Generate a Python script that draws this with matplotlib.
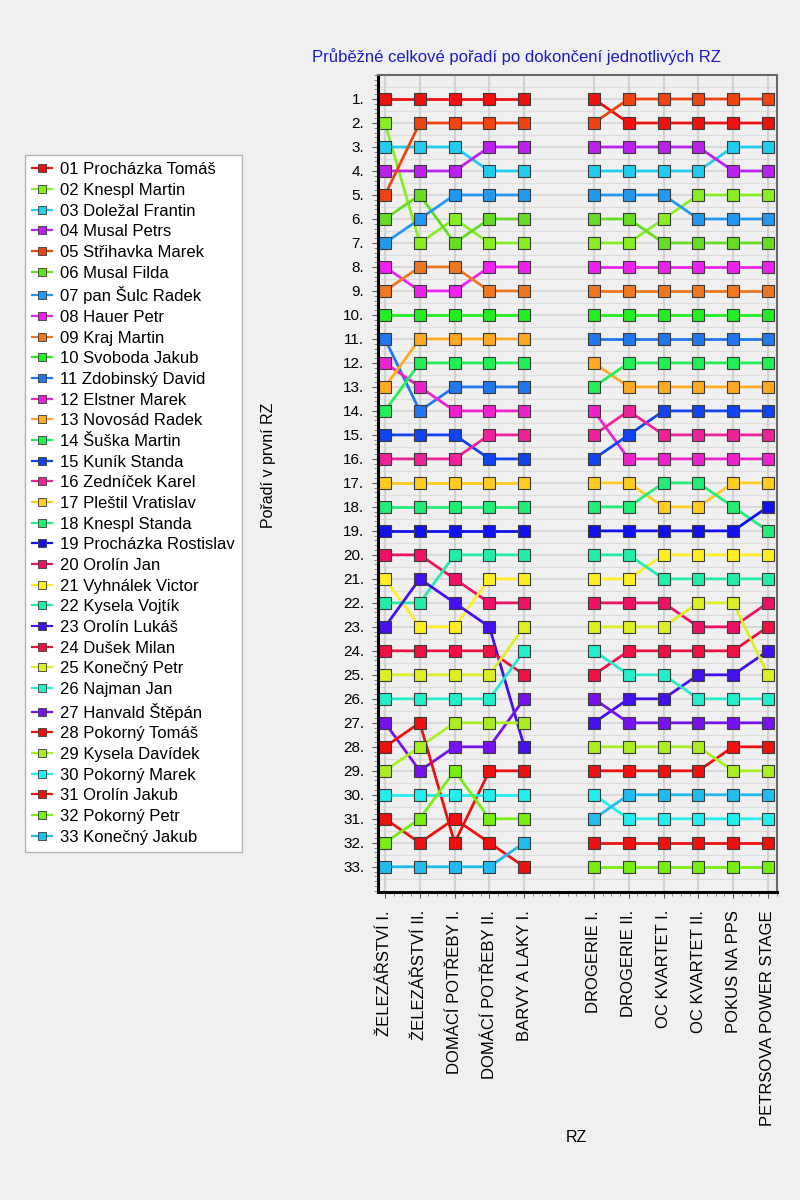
import numpy as np
import matplotlib.pyplot as plt
from matplotlib.ticker import MultipleLocator
from matplotlib.lines import Line2D

plt.rcParams['font.family'] = ['Liberation Sans', 'DejaVu Sans']

drivers = [
    "01 Procházka Tomáš", "02 Knespl Martin", "03 Doležal Frantin", "04 Musal Petrs",
    "05 Střihavka Marek", "06 Musal Filda", "07 pan Šulc Radek", "08 Hauer Petr",
    "09 Kraj Martin", "10 Svoboda Jakub", "11 Zdobinský David", "12 Elstner Marek",
    "13 Novosád Radek", "14 Šuška Martin", "15 Kuník Standa", "16 Zedníček Karel",
    "17 Pleštil Vratislav", "18 Knespl Standa", "19 Procházka Rostislav", "20 Orolín Jan",
    "21 Vyhnálek Victor", "22 Kysela Vojtík", "23 Orolín Lukáš", "24 Dušek Milan",
    "25 Konečný Petr", "26 Najman Jan", "27 Hanvald Štěpán", "28 Pokorný Tomáš",
    "29 Kysela Davídek", "30 Pokorný Marek", "31 Orolín Jakub", "32 Pokorný Petr",
    "33 Konečný Jakub",
]

colors = [
    "#ee1111", "#88ee22", "#22ccee", "#bb22ee", "#ee4411", "#66dd22", "#2299ee", "#ee22ee",
    "#ee7722", "#22ee22", "#2277ee", "#ee22cc", "#ffaa22", "#22ee55", "#1144ee", "#ee2299",
    "#ffcc22", "#22ee77", "#1111ee", "#ee1166", "#ffee22", "#22eeaa", "#4411ee", "#ee1144",
    "#ddee22", "#22eecc", "#7711ee", "#ee1111", "#aaee22", "#22eeee", "#ee1111", "#77ee11",
    "#22bbee",
]

stages_a = ["ŽELEZÁŘSTVÍ I.", "ŽELEZÁŘSTVÍ II.", "DOMÁCÍ POTŘEBY I.", "DOMÁCÍ POTŘEBY II.",
            "BARVY A LAKY I."]
stages_b = ["DROGERIE I.", "DROGERIE II.", "OC KVARTET I.", "OC KVARTET II.",
            "POKUS NA PPS", "PETRSOVA POWER STAGE"]

# position of each driver (01..33) after each stage
zel1 = [1, 2, 3, 4, 5, 6, 7, 8, 9, 10, 11, 12, 13, 14, 15, 16, 17, 18, 19, 20, 21, 22, 23,
        24, 25, 26, 27, 28, 29, 30, 31, 32, 33]
zel2 = [1, 7, 3, 4, 2, 5, 6, 9, 8, 10, 14, 13, 11, 12, 15, 16, 17, 18, 19, 20, 23, 22, 21,
        24, 25, 26, 29, 27, 28, 30, 32, 31, 33]
dom1 = [1, 6, 3, 4, 2, 7, 5, 9, 8, 10, 13, 14, 11, 12, 15, 16, 17, 18, 19, 21, 23, 20, 22,
        24, 25, 26, 28, 32, 27, 30, 31, 29, 33]
dom2 = [1, 7, 4, 3, 2, 6, 5, 8, 9, 10, 13, 14, 11, 12, 16, 15, 17, 18, 19, 22, 21, 20, 23,
        24, 25, 26, 28, 29, 27, 30, 32, 31, 33]
barvy = [1, 7, 4, 3, 2, 6, 5, 8, 9, 10, 13, 14, 11, 12, 16, 15, 17, 18, 19, 22, 21, 20, 28,
         25, 23, 24, 26, 29, 27, 30, 33, 31, 32]
drog1 = [1, 7, 4, 3, 2, 6, 5, 8, 9, 10, 11, 14, 12, 13, 16, 15, 17, 18, 19, 22, 21, 20, 27,
         25, 23, 24, 26, 29, 28, 30, 32, 33, 31]
drog2 = [2, 7, 4, 3, 1, 6, 5, 8, 9, 10, 11, 16, 13, 12, 15, 14, 17, 18, 19, 22, 21, 20, 26,
         24, 23, 25, 27, 29, 28, 31, 32, 33, 30]
oc1 = [2, 6, 4, 3, 1, 7, 5, 8, 9, 10, 11, 16, 13, 12, 14, 15, 18, 17, 19, 22, 20, 21, 26,
       24, 23, 25, 27, 29, 28, 31, 32, 33, 30]
oc2 = [2, 5, 4, 3, 1, 7, 6, 8, 9, 10, 11, 16, 13, 12, 14, 15, 18, 17, 19, 23, 20, 21, 25,
       24, 22, 26, 27, 29, 28, 31, 32, 33, 30]
pokus = [2, 5, 3, 4, 1, 7, 6, 8, 9, 10, 11, 16, 13, 12, 14, 15, 17, 18, 19, 23, 20, 21, 25,
         24, 22, 26, 27, 28, 29, 31, 32, 33, 30]
petrsova = [2, 5, 3, 4, 1, 7, 6, 8, 9, 10, 11, 16, 13, 12, 14, 15, 17, 19, 18, 22, 20, 21, 24,
            23, 25, 26, 27, 28, 29, 31, 32, 33, 30]

left = np.array([zel1, zel2, dom1, dom2, barvy]).T
right = np.array([drog1, drog2, oc1, oc2, pokus, petrsova]).T

bg = "#f0f0f0"
fig = plt.figure(figsize=(8, 12), dpi=100, facecolor=bg)
ax = fig.add_axes([0.4725, 0.2567, 0.4988, 0.6808])
ax.set_facecolor(bg)
ax.set_axisbelow(True)

x_a = np.arange(len(stages_a))
x_b = np.arange(len(stages_b)) + len(stages_a) + 1

handles = []
for i in range(len(drivers)):
    kw = dict(color=colors[i], lw=2, marker="s", ms=8, mfc=colors[i], mec="#3a3a3a", mew=0.8)
    ax.plot(x_a, left[i], **kw)
    ax.plot(x_b, right[i], **kw)
    handles.append(Line2D([], [], color=colors[i], lw=1.6, marker="s", ms=6,
                          mfc=colors[i], mec="#3a3a3a", mew=0.6))

ax.set_xticks(np.concatenate([x_a, x_b]))
ax.set_xticklabels(stages_a + stages_b, rotation=90, fontsize=12)
ax.xaxis.set_minor_locator(MultipleLocator(0.25))
ax.set_xlim(-0.2, 11.26)

ax.set_ylim(34.05, 0)
ax.set_yticks(range(1, 34))
ax.set_yticklabels([f"{k}." for k in range(1, 34)], fontsize=11)
ax.yaxis.set_minor_locator(MultipleLocator(0.2))

ax.grid(axis="x", which="major", color="#d2d2d2", lw=1.6)
ax.grid(axis="y", which="major", color="#d4d4d4", lw=1.2)
for h in np.arange(0.5, 34.5, 1.0):
    ax.axhline(h, color="#dedede", lw=0.9, zorder=0)

ax.tick_params(axis="both", which="major", length=4, color="#555555", pad=6)
ax.tick_params(axis="x", which="major", pad=9)
ax.tick_params(axis="both", which="minor", length=3, color="#777777")

for s in ["left", "bottom"]:
    ax.spines[s].set_color("black")
    ax.spines[s].set_linewidth(2.2)
for s in ["top", "right"]:
    ax.spines[s].set_color("#6a6a6a")
    ax.spines[s].set_linewidth(1.5)

fig.text(0.39, 0.9525, "Průběžné celkové pořadí po dokončení jednotlivých RZ",
         color="#1c1cc8", fontsize=12, ha="left", va="center")
fig.text(268 / 800, 1 - 465 / 1200, "Pořadí v první RZ", rotation=90,
         fontsize=11.5, ha="center", va="center")
fig.text(576 / 800, 1 - 1138 / 1200, "RZ", fontsize=11.5, ha="center", va="center")

leg = fig.legend(handles, drivers, loc="upper left", bbox_to_anchor=(0.031, 0.871),
                 frameon=True, fancybox=False, edgecolor="#b4b4b4", facecolor="white",
                 framealpha=1, fontsize=12, handlelength=1.2, handletextpad=0.45,
                 labelspacing=0.34, borderpad=0.45, borderaxespad=0)
leg.get_frame().set_linewidth(1.0)

fig.savefig("out.png", dpi=100, facecolor=bg)
